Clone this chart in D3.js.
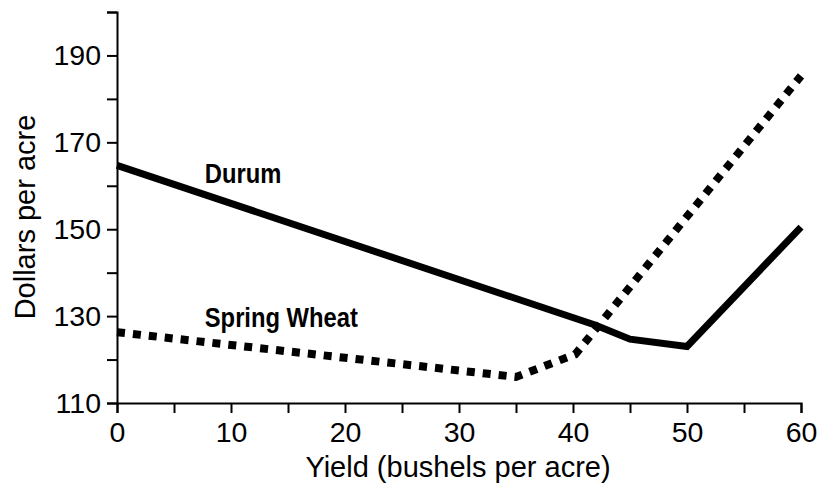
<!DOCTYPE html>
<html>
<head>
<meta charset="utf-8">
<script src="https://cdn.jsdelivr.net/npm/d3@7"></script>
<style>
  html, body { margin: 0; padding: 0; background: #fff; }
  svg { display: block; }
  text { font-family: "Liberation Sans", Arial, Helvetica, sans-serif; fill: #000; }
  .lbl { font-family: "Liberation Sans", Arial, sans-serif; font-weight: bold; }
</style>
</head>
<body>
<svg id="chart" width="822" height="487"></svg>
<script>
// ---- data ----
const durumX = [0, 42, 45, 50, 60];
const durumY = [164.7, 127.9, 124.7, 123.0, 150.5];
const springX = [0, 35, 40.2, 60];
const springY = [126.3, 116.0, 121.2, 185.3];
const xTickValues = [0, 5, 10, 15, 20, 25, 30, 35, 40, 45, 50, 55, 60];
const xTickLabels = [0, 10, 20, 30, 40, 50, 60];
const yTickValues = [110, 120, 130, 140, 150, 160, 170, 180, 190, 200];
const yTickLabels = [110, 130, 150, 170, 190];
const seriesNames = ["Durum", "Spring Wheat"];
const labelX = [7.7, 7.7];
const labelY = [160.6, 127.4];
const xTitle = "Yield (bushels per acre)";
const yTitle = "Dollars per acre";

// ---- layout ----
const svg = d3.select("#chart");
const x = d3.scaleLinear().domain([0, 60]).range([117, 801]);
const y = d3.scaleLinear().domain([110, 200]).range([403, 12]);

const fs = 28.5;

// x axis
const xAxis = d3.axisBottom(x)
  .tickValues(xTickValues)
  .tickSize(10)
  .tickSizeOuter(10)
  .tickPadding(9)
  .tickFormat(d => xTickLabels.includes(d) ? d : "");
const gx = svg.append("g").attr("transform", `translate(0,${y(110)})`).call(xAxis);
gx.attr("font-size", fs).attr("font-family", "'Liberation Sans', Arial, sans-serif");
gx.selectAll("path, line").attr("stroke", "#000").attr("stroke-width", 2);
gx.selectAll("text").attr("font-size", fs).attr("fill", "#000");

// y axis
const yAxis = d3.axisLeft(y)
  .tickValues(yTickValues)
  .tickSize(10)
  .tickSizeOuter(10)
  .tickPadding(6)
  .tickFormat(d => yTickLabels.includes(d) ? d : "");
const gy = svg.append("g").attr("transform", `translate(${x(0)},0)`).call(yAxis);
gy.attr("font-size", fs).attr("font-family", "'Liberation Sans', Arial, sans-serif");
gy.selectAll("path, line").attr("stroke", "#000").attr("stroke-width", 2);
gy.selectAll("text").attr("font-size", fs).attr("fill", "#000");

// axis titles
svg.append("text")
  .attr("x", 458)
  .attr("y", 477)
  .attr("text-anchor", "middle")
  .attr("font-size", 29)
  .text(xTitle);

svg.append("text")
  .attr("transform", `translate(35,217) rotate(-90)`)
  .attr("text-anchor", "middle")
  .attr("font-size", 29)
  .text(yTitle);

// lines
const line = d3.line().x(d => x(d[0])).y(d => y(d[1]));
const durum = durumX.map((v, i) => [v, durumY[i]]);
const spring = springX.map((v, i) => [v, springY[i]]);

svg.append("path")
  .datum(spring)
  .attr("d", line)
  .attr("fill", "none")
  .attr("stroke", "#000")
  .attr("stroke-width", 8)
  .attr("stroke-dasharray", "8,8")
  .attr("stroke-linejoin", "miter");

svg.append("path")
  .datum(durum)
  .attr("d", line)
  .attr("fill", "none")
  .attr("stroke", "#000")
  .attr("stroke-width", 7)
  .attr("stroke-linejoin", "miter");

// series labels (condensed bold)
svg.selectAll("text.lbl")
  .data(seriesNames)
  .enter()
  .append("text")
  .attr("class", "lbl")
  .attr("transform", (d, i) => `translate(${x(labelX[i])},${y(labelY[i])}) scale(0.88,1)`)
  .attr("font-size", 27)
  .text(d => d);
</script>
</body>
</html>
